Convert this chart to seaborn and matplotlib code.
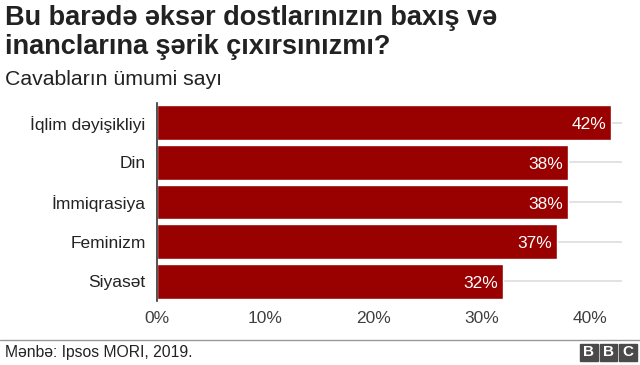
import matplotlib
matplotlib.use("Agg")
import matplotlib.pyplot as plt
from matplotlib.patches import Rectangle
from matplotlib.lines import Line2D
import seaborn as sns
import pandas as pd

# data
categories = ["İqlim dəyişikliyi", "Din", "İmmiqrasiya", "Feminizm", "Siyasət"]
values = [42, 38, 38, 37, 32]
xticks = [0, 10, 20, 30, 40]

df = pd.DataFrame({"Mövzu": categories, "Faiz": values})

sns.set_style("white")
plt.rcParams["font.family"] = ["Liberation Sans", "DejaVu Sans"]

fig = plt.figure(figsize=(6.4, 3.65), dpi=100)
ax = fig.add_axes([0.245, 0.175, 0.727, 0.543])

for i in range(len(categories)):
    ax.axhline(i, color="#dddddd", lw=1.2, zorder=0)

sns.barplot(data=df, x="Faiz", y="Mövzu", color="#990000", saturation=1,
            width=0.88, ax=ax, zorder=2)

for i, v in enumerate(values):
    ax.text(v - 0.45, i + 0.05, f"{v}%", color="white", ha="right", va="center",
            fontsize=12.5)

ax.set_xlim(0, 43)
ax.set_xticks(xticks)
ax.set_xticklabels([f"{t}%" for t in xticks], fontsize=12.5, color="#404040")
ax.tick_params(axis="y", labelsize=12.5, colors="#222222", length=0, pad=8)
ax.tick_params(axis="x", length=0, pad=7)
ax.set_xlabel("")
ax.set_ylabel("")
for s in ["top", "right", "bottom"]:
    ax.spines[s].set_visible(False)
ax.spines["left"].set_color("#333333")
ax.spines["left"].set_linewidth(1.2)

fig.text(0.008, 0.952, "Bu barədə əksər dostlarınızın baxış və", fontsize=19.5,
         fontweight="bold", color="#222222", va="center")
fig.text(0.008, 0.870, "inanclarına şərik çıxırsınızmı?", fontsize=19.5,
         fontweight="bold", color="#222222", va="center")
fig.text(0.008, 0.782, "Cavabların ümumi sayı", fontsize=15.3, color="#222222",
         va="center")

fig.add_artist(Line2D([0, 1], [1 - 340 / 365] * 2, color="#999999", lw=1,
                      transform=fig.transFigure))
fig.text(0.008, 1 - 353 / 365, "Mənbə: Ipsos MORI, 2019.", fontsize=11.3,
         color="#222222", va="center")

for k, letter in enumerate("BBC"):
    x0 = 580 + k * 19.5
    fig.add_artist(Rectangle((x0 / 640, 1 - 361 / 365), 17.5 / 640, 17.5 / 365,
                             transform=fig.transFigure, color="#4a4a4a"))
    fig.text((x0 + 8.75) / 640, 1 - 352.5 / 365, letter, color="white",
             fontsize=11, fontweight="bold", ha="center", va="center")

fig.savefig("out.png", dpi=100)
